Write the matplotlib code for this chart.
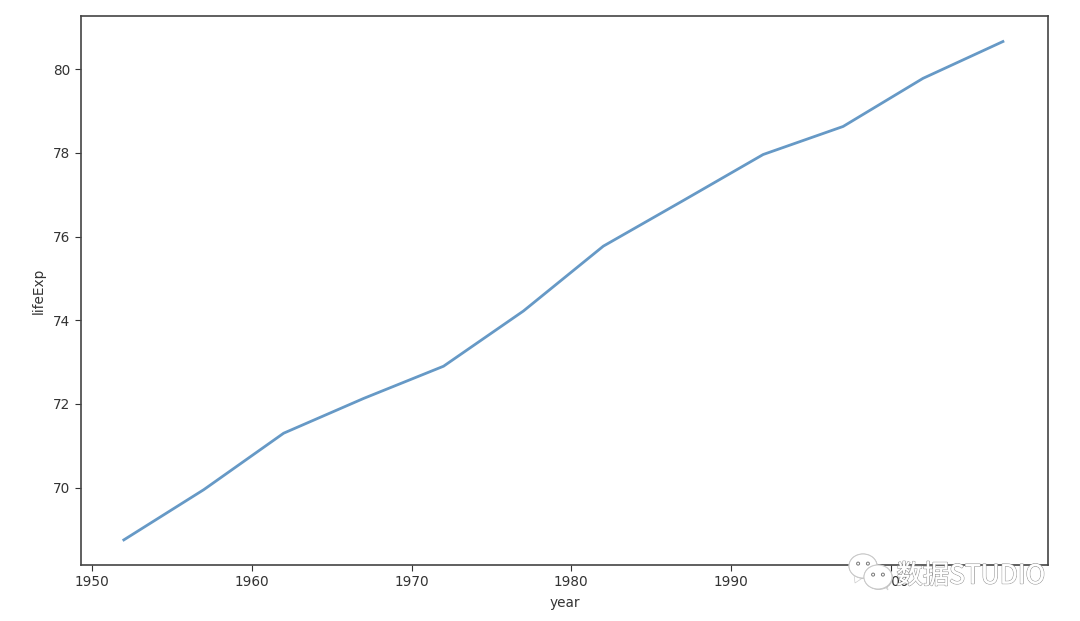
import matplotlib
matplotlib.use("Agg")
import matplotlib.pyplot as plt
import matplotlib.patheffects as pe
from matplotlib.patches import Ellipse, Polygon

years = [1952, 1957, 1962, 1967, 1972, 1977, 1982, 1987, 1992, 1997, 2002, 2007]
life_exp = [68.75, 69.95, 71.30, 72.13, 72.90, 74.22, 75.77, 76.86, 77.96, 78.63, 79.78, 80.66]
x_ticks = [1950, 1960, 1970, 1980, 1990, 2000]
y_ticks = [70, 72, 74, 76, 78, 80]

W, H = 1080, 621
fig = plt.figure(figsize=(W / 100, H / 100), dpi=100)
ax = fig.add_axes([81 / W, 1 - 565 / H, (1048 - 81) / W, (565 - 16) / H])
ax.plot(years, life_exp, color="#6699c6", lw=2.0)
ax.set_xlim(1949.32, 2009.82)
ax.set_ylim(68.15, 81.27)
ax.set_xticks(x_ticks)
ax.set_yticks(y_ticks)
ax.tick_params(labelsize=9.8, colors="#333333", length=4)
ax.set_xlabel("year", fontsize=9.8, color="#333333", labelpad=5)
ax.set_ylabel("lifeExp", fontsize=9.8, color="#333333", labelpad=5.5)
for s in ax.spines.values():
    s.set_color("#444444")
    s.set_linewidth(1.2)


def bubble(cx, cy, rx, ry, tail):
    shadow = pe.withSimplePatchShadow(offset=(0.6, -0.6), shadow_rgbFace="#999999", alpha=0.6)
    fig.add_artist(Polygon([(p / W, 1 - q / H) for p, q in tail], closed=True,
                           transform=fig.transFigure, fc="white", ec="#cccccc", lw=0.5, zorder=4))
    fig.add_artist(Ellipse((cx / W, 1 - cy / H), 2 * rx / W, 2 * ry / H, transform=fig.transFigure,
                           fc="white", ec="#c8c8c8", lw=0.7, zorder=4, path_effects=[shadow, pe.Normal()]))
    for dx in (-0.35 * rx, 0.35 * rx):
        fig.add_artist(Ellipse(((cx + dx) / W, 1 - (cy - 0.2 * ry) / H), 3 / W, 3 / H,
                               transform=fig.transFigure, fc="white", ec="#777777", lw=0.7, zorder=5))


bubble(863, 566, 14, 12, [(854, 574), (855, 583), (864, 577)])
bubble(878, 577, 14, 12, [(884, 586), (888, 590), (887, 584)])

fig.text(1045 / W, 1 - 576 / H, "数据STUDIO", family=["Noto Sans CJK SC", "DejaVu Sans"],
         fontsize=19, fontweight="light", color="#ffffff", ha="right", va="center", zorder=6,
         path_effects=[pe.withStroke(linewidth=1.0, foreground="#9a9a9a"), pe.Normal()])
fig.savefig("out.png", dpi=100)
